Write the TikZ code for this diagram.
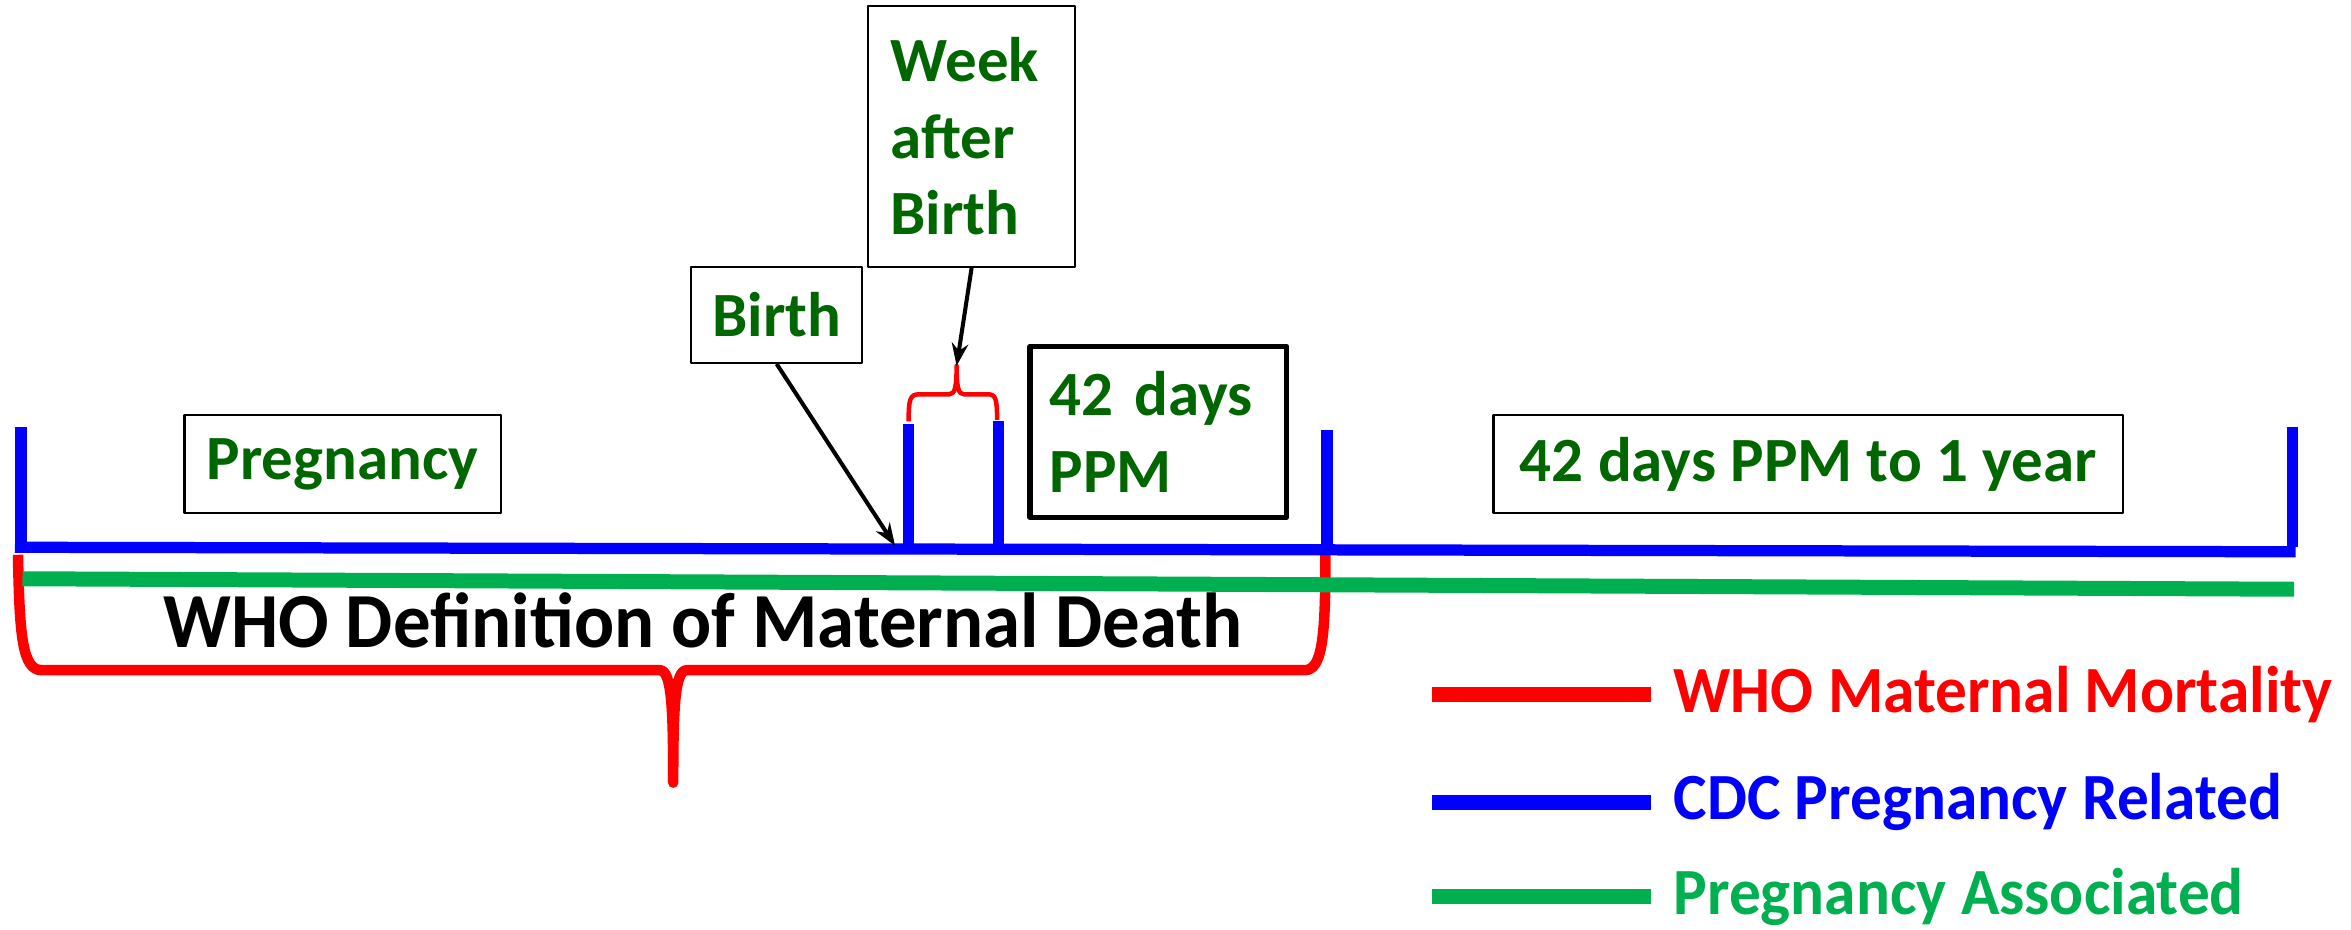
\documentclass[tikz,border=0pt]{standalone}
\usepackage{fontspec}
\setmainfont{Carlito}
\newfontfamily\NarrowFont{Carlito}[FakeStretch=0.96]
\usetikzlibrary{arrows.meta}
\definecolor{labelgreen}{RGB}{0,102,0}
\definecolor{assocgreen}{RGB}{0,176,80}
\newcommand{\BoxFont}{\fontsize{42}{51}\selectfont\bfseries}

\begin{document}
\begin{tikzpicture}[line join=round,>={Stealth[length=15pt,width=11pt]},x=1pt,y=-1pt,
  label box/.style={draw=black,line width=1.5pt,inner sep=0pt,font=\BoxFont,text=labelgreen},
  legend text/.style={anchor=west,inner sep=0pt,font=\NarrowFont\fontsize{44}{52}\selectfont\bfseries},
  cdc line/.style={color=blue,line width=7.5pt},
  who line/.style={color=red,line width=7pt},
  assoc line/.style={color=assocgreen,line width=10pt}]
  \useasboundingbox (0,0) rectangle (1568,620);
  % WHO brace under the timeline
  \draw[who line] (12,370) .. controls (13,425) and (15,447) .. (28,447) -- (440,447)
    .. controls (448,447) and (449,472) .. (449,522)
    .. controls (449,472) and (450,447) .. (458,447) -- (870,447)
    .. controls (882,447) and (884,425) .. (884,370);
  % pregnancy associated
  \draw[assoc line] (15,386) -- (1530,393);
  % CDC timeline and ticks
  \draw[cdc line] (10,365) -- (1531,368);
  \foreach \x/\t in {14/285,606/283,666/281,885/287,1529/285}
  \draw[cdc line] (\x,\t) -- (\x,365);
  % week after birth brace
  \draw[who line,line width=3pt] (606,281) .. controls (606,266) and (607,263) .. (613,263) -- (633,263)
    .. controls (637,263) and (638,258) .. (638,244)
    .. controls (638,258) and (639,263) .. (643,263) -- (659,263)
    .. controls (664,263) and (665,266) .. (665,280);
  \coordinate (btip) at (597,364);
  \coordinate (wtip) at (638,244);
  % boxes
  \node[label box,minimum width=211,minimum height=65] (preg) at (228.5,309.5) {Pregnancy};
  \node[label box,minimum width=114,minimum height=64] (birth) at (518,210) {Birth};
  \node[label box,minimum height=174,text width=108,inner xsep=15,align=left] (week) at (648,91) {Week\\after\\Birth};
  \node[label box,line width=3.5pt,minimum height=114,text width=145,inner xsep=13,align=left] (ppm) at (772.5,288) {42 days\\PPM};
  \node[label box,minimum width=420,minimum height=65] (year) at (1206,309.5) {42 days PPM to 1 year};
  \draw[->,line width=2.7pt] (birth.south) -- (btip);
  \draw[->,line width=2.7pt] (week.south) -- (wtip);
  \node[font=\NarrowFont\fontsize{52}{60}\selectfont\bfseries] (whodef) at (469,414) {WHO Definition of Maternal Death};
  % legend
  \draw[who line,line width=10pt] (955,463) -- (1101,463);
  \node[legend text,text=red] (lwho) at (1116,463) {WHO Maternal Mortality};
  \draw[cdc line,line width=10pt] (955,535) -- (1101,535);
  \node[legend text,text=blue] (lcdc) at (1116,535) {CDC Pregnancy Related};
  \draw[assoc line,line width=10pt] (955,598) -- (1101,598);
  \node[legend text,text=assocgreen] (lassoc) at (1116,598) {Pregnancy Associated};
\end{tikzpicture}
\end{document}
